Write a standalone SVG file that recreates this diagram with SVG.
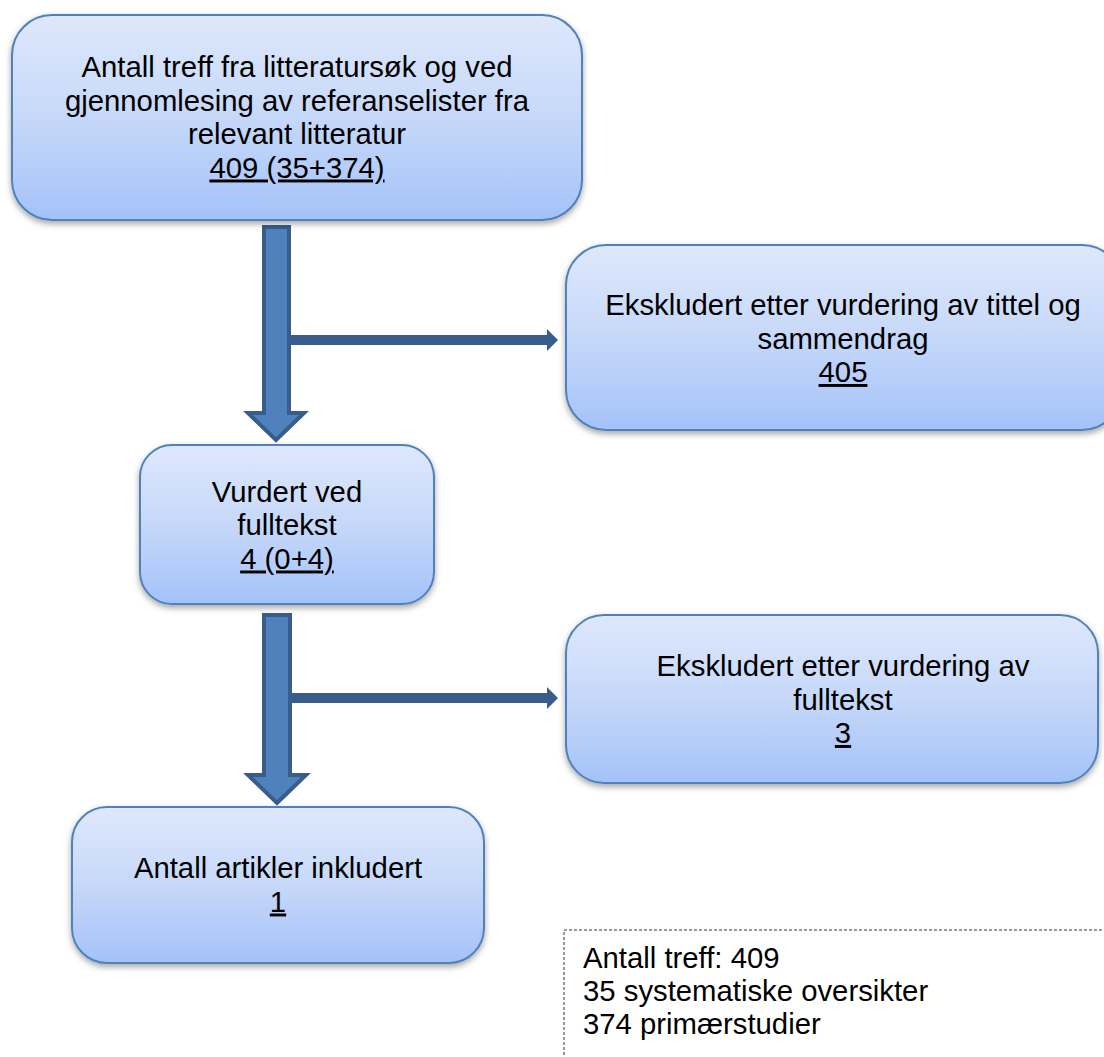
<svg xmlns="http://www.w3.org/2000/svg" width="1104" height="1057" viewBox="0 0 1104 1057">
<defs>
<linearGradient id="boxfill" x1="0" y1="0" x2="0" y2="1">
<stop offset="0" stop-color="#DEE8FB"/>
<stop offset="0.5" stop-color="#C6D8F9"/>
<stop offset="1" stop-color="#A4C2F9"/>
</linearGradient>
<filter id="shadow" x="-10%" y="-10%" width="120%" height="130%">
<feDropShadow dx="0" dy="3" stdDeviation="3" flood-color="#000" flood-opacity="0.35"/>
</filter>
</defs>
<style>
.box{fill:url(#boxfill);stroke:#4F81BD;stroke-width:2;filter:url(#shadow)}
.t{font-family:"Liberation Sans",Arial,sans-serif;font-size:29.3px;fill:#000;text-anchor:middle}
.tl{font-family:"Liberation Sans",Arial,sans-serif;font-size:29.3px;fill:#000}
.u{text-decoration:underline}
.big{fill:#4F81BD;stroke:#385D8A;stroke-width:4;stroke-linejoin:miter}
.side{fill:#385D8A}
</style>
<rect width="1104" height="1057" fill="#fff"/>
<g id="connectors">
<polygon class="big" points="264,227 289,227 289,413 304,413 276,440 248,413 264,413"/>
<polygon class="side" points="291,335 547,335 547,329 558,340 547,351 547,345 291,345"/>
<polygon class="big" points="264,615 290,615 290,775 306,775 277,803 248,775 264,775"/>
<polygon class="side" points="292,693 547,693 547,687 558,698 547,709 547,703 292,703"/>
</g>
<g id="n1">
<rect class="box" x="12" y="15" width="570" height="205" rx="40"/>
<text class="t" x="297" y="77">Antall treff fra litteratursøk og ved</text>
<text class="t" x="297" y="110.5">gjennomlesing av referanselister fra</text>
<text class="t" x="297" y="144">relevant litteratur</text>
<text class="t u" x="297" y="177.5">409 (35+374)</text>
</g>
<g id="n2">
<rect class="box" x="566" y="245" width="556" height="185" rx="40"/>
<text class="t" x="843" y="315">Ekskludert etter vurdering av tittel og</text>
<text class="t" x="843" y="348.5">sammendrag</text>
<text class="t u" x="843" y="382">405</text>
</g>
<g id="n3">
<rect class="box" x="140" y="445" width="294" height="159" rx="32"/>
<text class="t" x="287" y="501.5">Vurdert ved</text>
<text class="t" x="287" y="535">fulltekst</text>
<text class="t u" x="287" y="568.5">4 (0+4)</text>
</g>
<g id="n4">
<rect class="box" x="566" y="615" width="532" height="168" rx="38"/>
<text class="t" x="843" y="676">Ekskludert etter vurdering av</text>
<text class="t" x="843" y="709.5">fulltekst</text>
<text class="t u" x="843" y="743">3</text>
</g>
<g id="n5">
<rect class="box" x="72" y="807" width="412" height="156" rx="35"/>
<text class="t" x="278" y="878">Antall artikler inkludert</text>
<text class="t u" x="278" y="911.5">1</text>
</g>
<g id="note">
<rect x="564" y="930" width="560" height="150" fill="#fff" stroke="#333" stroke-width="1" stroke-dasharray="3,2"/>
<text class="tl" x="583" y="968">Antall treff: 409</text>
<text class="tl" x="583" y="1001">35 systematiske oversikter</text>
<text class="tl" x="583" y="1034">374 primærstudier</text>
</g>
</svg>
